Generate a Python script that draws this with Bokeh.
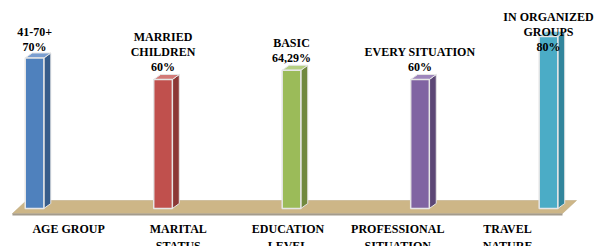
import numpy as np
from bokeh.plotting import figure
from bokeh.models import Range1d, ColumnDataSource
from bokeh.core.properties import value
from bokeh.embed import file_html
from bokeh.resources import INLINE

# ---- data ----
categories = ["AGE GROUP", "MARITAL\nSTATUS", "EDUCATION\nLEVEL",
              "PROFESSIONAL\nSITUATION", "TRAVEL\nNATURE"]
answers = ["41-70+", "MARRIED\nCHILDREN", "BASIC", "EVERY SITUATION", "IN ORGANIZED\nGROUPS"]
percent_text = ["70%", "60%", "64,29%", "60%", "80%"]
values = [70, 60, 64.29, 60, 80]

front_colors = ["#4F81BD", "#C0504D", "#9BBB59", "#8064A2", "#4BACC6"]
side_colors = ["#385D8A", "#8C3836", "#71893F", "#5C4776", "#31859C"]
top_colors = ["#7A9ED0", "#D27A78", "#B5CF82", "#9E86BC", "#7CC5D8"]

FONT = value("Liberation Serif")
W, H = 599, 246
p = figure(width=W, height=H, output_backend="svg", toolbar_location=None,
           x_range=Range1d(-0.265, 4.397), y_range=Range1d(-17.67, 96.74),
           min_border=0)
p.outline_line_color = None
p.grid.visible = False
p.xaxis.visible = False
p.yaxis.visible = False
p.background_fill_color = "white"
p.border_fill_color = "white"

# separate, evenly spaced range for the category labels (floor perspective)
p.extra_x_ranges = {"labels": Range1d(-0.620, 4.838)}

# floor
fx0, fx1, fdx = -0.172, 4.109, 0.109
fy_front, fy_back = -2.33, 3.72
p.patch([fx0, fx1, fx1 + fdx, fx0 + fdx], [fy_front, fy_front, fy_back, fy_back],
        fill_color="#CDB687", line_color="#B9A47A", line_width=0.5)
p.patch([fx0, fx1, fx1, fx0], [fy_front, fy_front, fy_front - 0.9, fy_front - 0.9],
        fill_color="#A49B8C", line_color=None)

x = np.arange(len(values))
v = np.array(values)
w = 0.145
dx = 0.054
dy = 2.33

# side faces
side_xs = [[xi + w / 2, xi + w / 2 + dx, xi + w / 2 + dx, xi + w / 2] for xi in x]
side_ys = [[0, dy, vi + dy, vi] for vi in v]
p.patches(side_xs, side_ys, fill_color=side_colors, line_color="#E6E6E6", line_width=1)
# top faces
top_xs = [[xi - w / 2, xi + w / 2, xi + w / 2 + dx, xi - w / 2 + dx] for xi in x]
top_ys = [[vi, vi, vi + dy, vi + dy] for vi in v]
p.patches(top_xs, top_ys, fill_color=top_colors, line_color="#E6E6E6", line_width=1)
# front faces
p.vbar(x=x, width=w, bottom=0, top=v, fill_color=front_colors,
       line_color="#E6E6E6", line_width=1.5)

# value labels (kept inside the chart area, as in the original)
LABEL_CAP = 69.6
labels = [a + "\n" + t for a, t in zip(answers, percent_text)]
src = ColumnDataSource(dict(x=x, y=np.minimum(v, LABEL_CAP), t=labels))
p.text(x="x", y="y", text="t", source=src, y_offset=-5,
       text_align="center", text_baseline="bottom",
       text_font=FONT, text_font_style="bold",
       text_font_size="12px", text_color="black", text_line_height=1.08)

# category labels below the floor
CAT_Y = -6.5
csrc = ColumnDataSource(dict(x=list(range(len(categories))), y=[CAT_Y] * len(categories), t=categories))
p.text(x="x", y="y", text="t", source=csrc, x_range_name="labels",
       text_align="center", text_baseline="top",
       text_font=FONT, text_font_style="bold",
       text_font_size="12px", text_color="black", text_line_height=1.15)

open("out.html", "w").write(file_html(p, INLINE))
